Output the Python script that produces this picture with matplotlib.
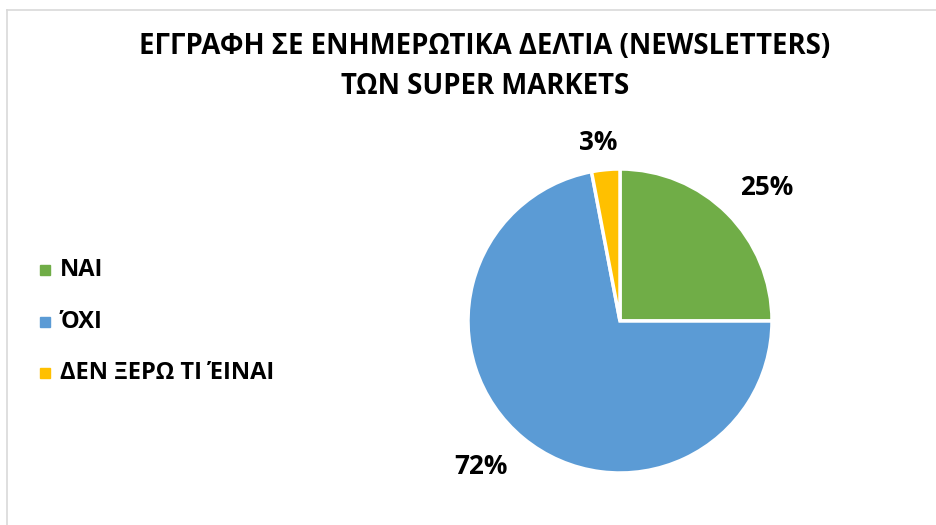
"""Pie chart: newsletter subscription of super markets"""
import matplotlib
matplotlib.use('Agg')
import matplotlib.pyplot as plt
from matplotlib.lines import Line2D

plt.rcParams['font.family'] = ['Open Sans', 'DejaVu Sans']

LABELS = ['ΝΑΙ', 'ΌΧΙ', 'ΔΕΝ ΞΕΡΩ ΤΙ ΈΙΝΑΙ']
VALUES = [25, 72, 3]
COLORS = ['#70AD47', '#5B9BD5', '#FFC000']
TITLE = 'ΕΓΓΡΑΦΗ ΣΕ ΕΝΗΜΕΡΩΤΙΚΑ ΔΕΛΤΙΑ (NEWSLETTERS)\nΤΩΝ SUPER MARKETS'

W, H = 937, 525
fig = plt.figure(figsize=(W / 100, H / 100), dpi=100)

# thin grey chart border (top + left visible)
fig.add_artist(Line2D([7 / W, 1], [1 - 10 / H, 1 - 10 / H], color='#d9d9d9', lw=1.2))
fig.add_artist(Line2D([7 / W, 7 / W], [0, 1 - 10 / H], color='#d9d9d9', lw=1.2))

fig.text(485 / W, 1 - 67 / H, TITLE, ha='center', va='center', fontsize=19.8,
         fontweight='bold', linespacing=1.5)

# pie axes: center (620, 321), radius ~152 px
cx, cy, r = 620, 321, 152
ax = fig.add_axes([(cx - r) / W, 1 - (cy + r) / H, 2 * r / W, 2 * r / H])
wedges, _ = ax.pie(VALUES, colors=COLORS, startangle=90, counterclock=False,
                   wedgeprops=dict(edgecolor='white', linewidth=2.5), radius=1)
ax.set_xlim(-1, 1)
ax.set_ylim(-1, 1)
ax.set_aspect('equal')

# data labels
lab_pos = [(767, 188), (481, 467), (598, 143)]
for v, (x, y) in zip(VALUES, lab_pos):
    fig.text(x / W, 1 - y / H, f'{v}%', ha='center', va='center',
             fontsize=18.8, fontweight='bold')

# legend
leg_y = [270, 322, 373]
for lab, col, y in zip(LABELS, COLORS, leg_y):
    fig.add_artist(Line2D([45 / W], [1 - y / H], marker='s', ms=7,
                          color=col, linestyle='none'))
    fig.text(60 / W, 1 - y / H, lab, ha='left', va='center', fontsize=17,
             fontweight='bold')

fig.savefig('out.png', dpi=100)
